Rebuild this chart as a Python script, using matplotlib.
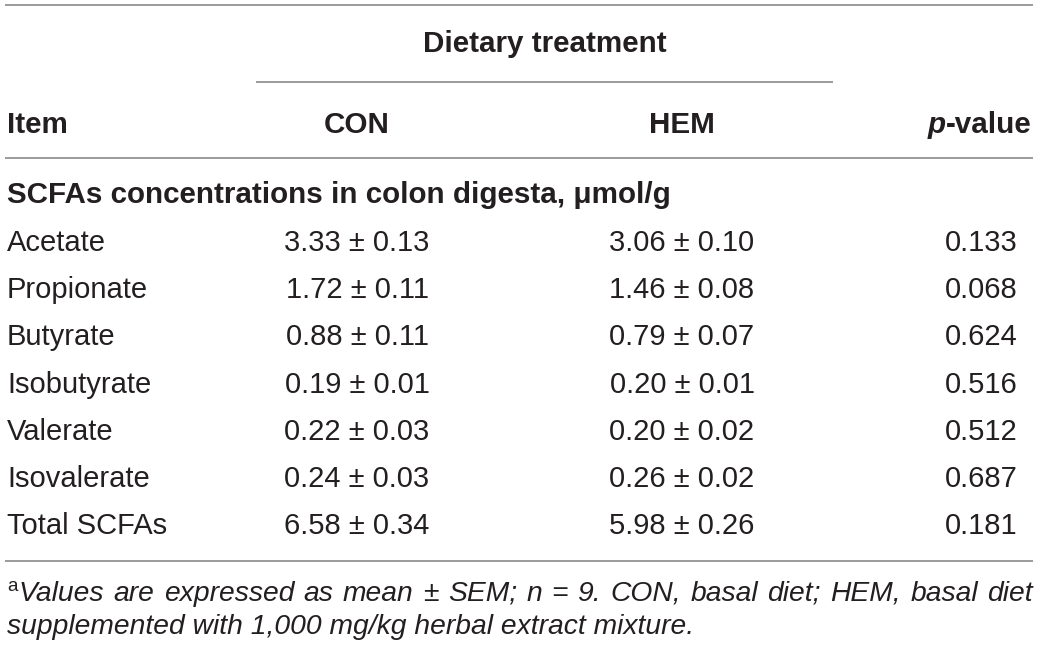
import matplotlib
matplotlib.use("Agg")
import matplotlib.pyplot as plt

# table content
group_header = "Dietary treatment"
col_headers = ["Item", "CON", "HEM"]
section = "SCFAs concentrations in colon digesta, μmol/g"
items = ["Acetate", "Propionate", "Butyrate", "Isobutyrate", "Valerate",
         "Isovalerate", "Total SCFAs"]
con_mean = [3.33, 1.72, 0.88, 0.19, 0.22, 0.24, 6.58]
con_sem = [0.13, 0.11, 0.11, 0.01, 0.03, 0.03, 0.34]
hem_mean = [3.06, 1.46, 0.79, 0.20, 0.20, 0.26, 5.98]
hem_sem = [0.10, 0.08, 0.07, 0.01, 0.02, 0.02, 0.26]
p_values = [0.133, 0.068, 0.624, 0.516, 0.512, 0.687, 0.181]
footnote_1 = "Values are expressed as mean ± SEM; n = 9. CON, basal diet; HEM, basal diet"
footnote_2 = "supplemented with 1,000 mg/kg herbal extract mixture."

plt.rcParams['font.family'] = ['Liberation Sans', 'DejaVu Sans']
ink = "#231f20"
rule = "#8a8a8a"

fig = plt.figure(figsize=(10.4, 6.48), dpi=100)
ax = fig.add_axes([0, 0, 1, 1])
ax.set_xlim(0, 1040)
ax.set_ylim(648, 0)
ax.axis("off")

x_item, x_con, x_hem, x_p = 7, 357, 682, 981
fs = 21
fs_bold = 21.3

# rules
for y, x0, x1 in [(5, 5, 1033), (82, 256, 833), (158, 5, 1033), (561, 5, 1033)]:
    ax.plot([x0, x1], [y, y], color=rule, lw=1.2, solid_capstyle="butt")

# headers
ax.text(545, 52, group_header, ha="center", va="baseline", fontsize=fs_bold,
        fontweight="bold", color=ink)
ax.text(x_item, 133, col_headers[0], ha="left", va="baseline", fontsize=fs_bold,
        fontweight="bold", color=ink)
ax.text(x_con, 133, col_headers[1], ha="center", va="baseline", fontsize=fs_bold,
        fontweight="bold", color=ink)
ax.text(x_hem, 133, col_headers[2], ha="center", va="baseline", fontsize=fs_bold,
        fontweight="bold", color=ink)

renderer = fig.canvas.get_renderer()
inv = ax.transData.inverted()
tv = ax.text(1032, 133, "-value", ha="right", va="baseline", fontsize=fs_bold,
             fontweight="bold", color=ink)
bb = tv.get_window_extent(renderer)
left = inv.transform((bb.x0, bb.y0))[0]
ax.text(left, 133, "p", ha="right", va="baseline", fontsize=fs_bold,
        fontweight="bold", fontstyle="italic", color=ink)

ax.text(x_item, 203, section, ha="left", va="baseline", fontsize=fs_bold,
        fontweight="bold", color=ink)

# body rows
for i, name in enumerate(items):
    y = 251 + i * 47.2
    ax.text(x_item, y, name, ha="left", va="baseline", fontsize=fs, color=ink)
    ax.text(x_con, y, f"{con_mean[i]:.2f} ± {con_sem[i]:.2f}", ha="center",
            va="baseline", fontsize=fs, color=ink)
    ax.text(x_hem, y, f"{hem_mean[i]:.2f} ± {hem_sem[i]:.2f}", ha="center",
            va="baseline", fontsize=fs, color=ink)
    ax.text(x_p, y, f"{p_values[i]:.3f}", ha="center", va="baseline",
            fontsize=fs, color=ink)

# footnote, first line justified
fn_fs = 20.3
sup = ax.text(x_item, 591, "a", ha="left", va="baseline", fontsize=13.5, color=ink)
bb = sup.get_window_extent(renderer)
start = inv.transform((bb.x1, bb.y0))[0] + 1
words = footnote_1.split(" ")
widths = []
for w in words:
    t = ax.text(0, 0, w, fontsize=fn_fs, fontstyle="italic")
    b = t.get_window_extent(renderer)
    widths.append(b.width)
    t.remove()
total_px = sum(widths)
span_px = (1033 - start) * fig.dpi * 10.4 / 1040
gap = (span_px - total_px) / (len(words) - 1)
x = start
for w, wd in zip(words, widths):
    ax.text(x, 601, w, ha="left", va="baseline", fontsize=fn_fs,
            fontstyle="italic", color=ink)
    x += (wd + gap) * 1040 / (fig.dpi * 10.4)

ax.text(x_item, 634, footnote_2, ha="left", va="baseline", fontsize=fn_fs,
        fontstyle="italic", color=ink)

fig.savefig("out.png", dpi=100)
